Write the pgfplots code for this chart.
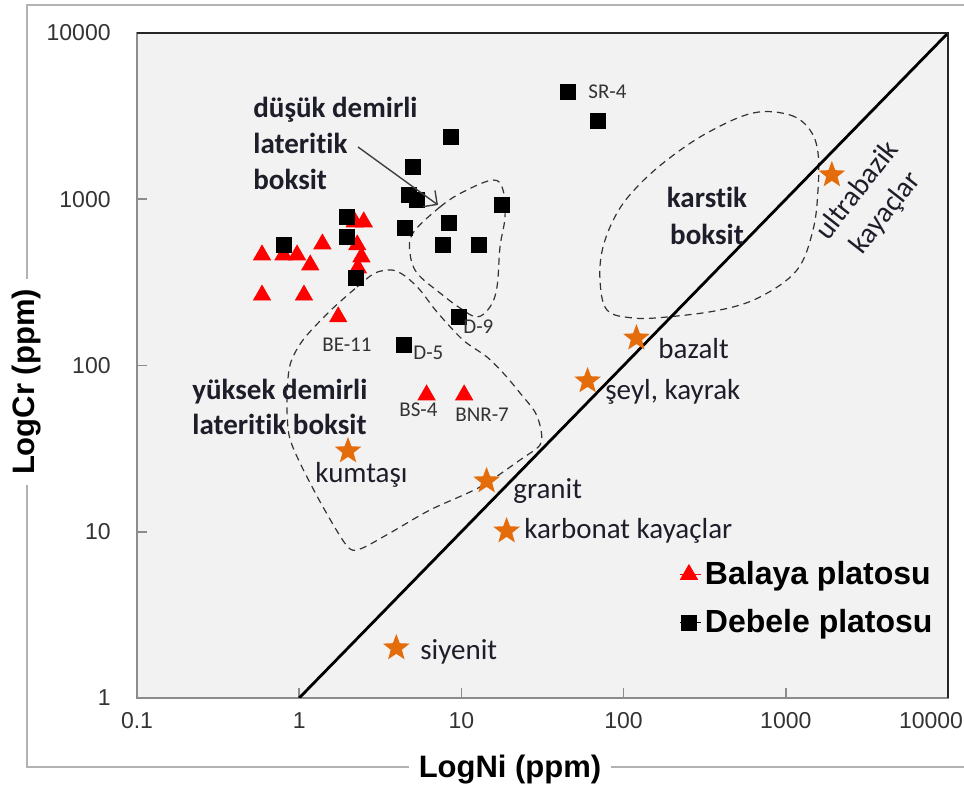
\documentclass[border=0pt]{standalone}
\usepackage{fontspec}
\setmainfont[Ligatures=NoCommon, RawFeature={-liga;-clig;-calt;-dlig}]{Carlito}
\newfontfamily\arial{Liberation Sans}
\usepackage{pgfplots}
\pgfplotsset{compat=1.18}
\usetikzlibrary{arrows.meta}

\definecolor{plotbg}{HTML}{F2F2F2}
\definecolor{starorange}{HTML}{E46C0A}
\definecolor{labelcol}{HTML}{1E1E2A}
\definecolor{framegray}{HTML}{8C8C8C}

% filled five-point star
\pgfdeclareplotmark{fstar}{%
  \pgfpathmoveto{\pgfpointpolar{90}{\pgfplotmarksize}}%
  \pgfpathlineto{\pgfpointpolar{126}{0.42*\pgfplotmarksize}}%
  \pgfpathlineto{\pgfpointpolar{162}{\pgfplotmarksize}}%
  \pgfpathlineto{\pgfpointpolar{198}{0.42*\pgfplotmarksize}}%
  \pgfpathlineto{\pgfpointpolar{234}{\pgfplotmarksize}}%
  \pgfpathlineto{\pgfpointpolar{270}{0.42*\pgfplotmarksize}}%
  \pgfpathlineto{\pgfpointpolar{306}{\pgfplotmarksize}}%
  \pgfpathlineto{\pgfpointpolar{342}{0.42*\pgfplotmarksize}}%
  \pgfpathlineto{\pgfpointpolar{18}{\pgfplotmarksize}}%
  \pgfpathlineto{\pgfpointpolar{54}{0.42*\pgfplotmarksize}}%
  \pgfpathclose
  \pgfusepathqfill}

\newcommand\annf{\fontsize{14.5}{17}\selectfont}
\newcommand\smf{\fontsize{10.5}{12}\selectfont}

\begin{document}
\begin{tikzpicture}
\useasboundingbox (0,0) rectangle (482pt,395.5pt);

% pixel scope: (0,0) is the top-left corner, 1px = 0.5pt
\begin{scope}[x=0.5pt, y=-0.5pt, shift={(0,395.5pt)}]
  \fill[plotbg] (137,33) rectangle (948,698);
  \draw[black!80, line width=0.6pt, dash pattern=on 3.5pt off 2.5pt]
    plot[smooth cycle, tension=0.6] coordinates {(413,233) (440,207) (463,192) (493,180) (503,190) (505,217) (500,247) (497,287) (490,307) (477,317) (460,308) (440,293) (417,273) (410,253)};
  \draw[black!80, line width=0.6pt, dash pattern=on 3.5pt off 2.5pt]
    plot[smooth cycle, tension=0.5] coordinates {(330,311) (357,287) (375,273) (392,270) (405,276) (420,290) (437,312) (463,340) (487,357) (505,375) (520,393) (535,412) (541,430) (540,445) (520,460) (480,487) (430,510) (390,533) (360,549) (347,546) (323,507) (300,463) (289,435) (287,400) (290,365) (303,340)};
  \draw[black!80, line width=0.6pt, dash pattern=on 3.5pt off 2.5pt]
    plot[smooth cycle, tension=0.6] coordinates {(753,113) (790,115) (810,130) (818,153) (818,190) (813,230) (797,270) (760,297) (720,310) (667,317) (633,318) (607,310) (600,280) (603,247) (617,213) (637,187) (667,160) (707,133)};
\end{scope}

\begin{axis}[
  at={(68.5pt,46.5pt)}, anchor=south west,
  scale only axis, width=405.5pt, height=332.5pt,
  xmode=log, ymode=log,
  xmin=0.1, xmax=10000, ymin=1, ymax=10000,
  xtick={0.1,1,10,100,1000,10000},
  xticklabels={0.1,1,10,100,1000,\makebox[0pt][r]{\raisebox{2.5pt}{10000}\hspace{-7.5pt}}},
  ytick={1,10,100,1000,10000},
  yticklabels={1,10,100,1000,10000},
  minor tick style={draw=none},
  tick align=inside, tick pos=left, major tick length=5pt,
  axis line style={draw=framegray, line width=0.8pt},
  major tick style={draw=framegray, line width=0.8pt},
  /pgf/number format/assume math mode=true,
  ticklabel style={font=\arial\fontsize{11.5}{13}\selectfont, text=black!80},
  xticklabel style={anchor=north, inner sep=0pt, yshift=-7pt},
  yticklabel style={anchor=east, inner sep=0pt, xshift=-13pt},
  legend style={at={(0.669,0.212)}, anchor=north west, draw=none, fill=none,
    font=\arial\bfseries\fontsize{16}{19}\selectfont, row sep=7pt,
    inner sep=0pt, nodes={inner sep=2pt}},
  legend cell align=left,
  legend image code/.code={\path (0.7pt,0pt) -- (10.8pt,0pt);
    \draw plot[only marks] coordinates {(5pt,0pt)};},
]
\addplot[black, line width=1.4pt, forget plot] coordinates {(1,1) (10000,10000)};

% Balaya platosu
\addplot[only marks, mark=triangle*, mark size=4.9pt, color=red] coordinates {
  (0.59,462) (0.59,265) (0.80,462) (0.97,462) (1.17,402) (1.07,265)
  (1.39,538) (2.2,730) (2.5,730) (2.28,531) (2.42,449) (2.3,386)
  (1.74,196) (6.1,66.5) (10.4,66.5)
};
% Debele platosu
\addplot[only marks, mark=square*, mark size=3.75pt, color=black] coordinates {
  (0.80,531) (1.98,782) (1.98,593) (2.25,336) (4.39,133) (9.7,196)
  (8.67,2368) (5.05,1563) (4.77,1061) (5.35,990) (4.51,671) (8.43,719)
  (7.74,531) (12.9,531) (17.7,923) (45.1,4418) (69.1,2956)
};
% rock types
\addplot[only marks, mark=fstar, mark size=7pt, color=starorange, forget plot] coordinates {
  (1923,1400) (120,146) (60,80.7) (14.3,20.2) (19,10.1) (2.0,30.6) (3.97,2.0)
};
\legend{Balaya platosu, Debele platosu}
\end{axis}

\begin{scope}[x=0.5pt, y=-0.5pt, shift={(0,395.5pt)}]
  \draw[black!85, line width=1pt] (137,33) -- (948,33) -- (948,698);
  % outer chart border
  \draw[black!30, line width=0.8pt] (970,5) -- (27,5) -- (27,767) -- (970,767);
  \node[fill=white, inner xsep=5pt, font=\arial\bfseries\fontsize{15.5}{18}\selectfont] at (510,770) {LogNi (ppm)};
  \node[fill=white, inner xsep=5pt, rotate=90, font=\arial\bfseries\fontsize{15.5}{18}\selectfont] at (27,382) {LogCr (ppm)};

  % field names
  \begin{scope}[every node/.style={inner sep=0pt, text=labelcol, font=\bfseries\annf}]
    \node[anchor=base west] at (253,118) {düşük demirli};
    \node[anchor=base west] at (253,154) {lateritik};
    \node[anchor=base west] at (253,190) {boksit};
    \node[anchor=base] at (707,208) {karstik};
    \node[anchor=base] at (707,245) {boksit};
    \node[anchor=base west] at (192,400) {yüksek demirli};
    \node[anchor=base west] at (192,435) {lateritik boksit};
  \end{scope}
  \draw[-{Straight Barb[length=5pt]}, black!75, line width=0.7pt] (358,147) -- (438,205);

  % rock names
  \begin{scope}[every node/.style={inner sep=0pt, text=labelcol, font=\annf}]
    \node[anchor=base west] at (315,483) {kumtaşı};
    \node[anchor=base west] at (513,499) {granit};
    \node[anchor=base west] at (524,539) {karbonat kayaçlar};
    \node[anchor=base west] at (420,660) {siyenit};
    \node[anchor=base west] at (658,359) {bazalt};
    \node[anchor=base west] at (605,400) {şeyl, kayrak};
    \node[rotate=52, align=center, font=\fontsize{14.5}{18}\selectfont] at (872,202) {ultrabazik\\kayaçlar};
  \end{scope}

  % sample labels
  \begin{scope}[every node/.style={inner sep=0pt, text=black!80, font=\smf, anchor=west}]
    \node at (588,92) {SR-4};
    \node at (322,345) {BE-11};
    \node at (413,353) {D-5};
    \node at (463,327) {D-9};
    \node at (399,410) {BS-4};
    \node at (455,415) {BNR-7};
  \end{scope}
\end{scope}
\end{tikzpicture}
\end{document}
